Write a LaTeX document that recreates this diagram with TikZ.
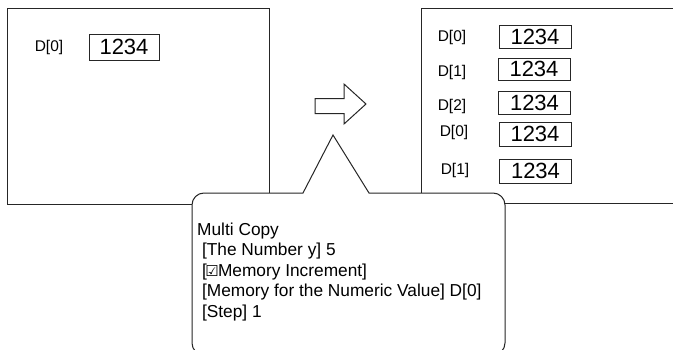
\documentclass[tikz,border=0pt]{standalone}
\usepackage{fontspec}
\setmainfont{Liberation Sans}
\newfontfamily\symfont{DejaVu Sans}
\newcommand\checkedbox{\kern-0.08em{\symfont\fontsize{15}{15}\selectfont\char"2611}\kern-0.05em}
\begin{document}
\begin{tikzpicture}[x=1pt,y=1pt,
  frame/.style={draw=black!85, line width=1pt},
  valbox/.style={draw=black!85, line width=0.9pt, minimum width=72pt,
    minimum height=23pt, inner sep=0pt, font=\fontsize{22}{22}\selectfont},
  lbl/.style={font=\fontsize{15.5}{15.5}\selectfont, inner sep=0pt},
  note/.style={anchor=base west, align=left, inner sep=0pt,
    font=\fontsize{17.3}{20.5}\selectfont}]
\useasboundingbox (0,0) rectangle (673,349);
\clip (0,0) rectangle (673,349);

% source screen
\draw[frame] (7,340) rectangle (269,145);
\node[lbl] (s0) at (49,302) {D[0]};
\node[valbox, minimum width=70pt, minimum height=26pt] (sv0) at (124,302) {1234};

% destination screen
\draw[frame] (421,340) rectangle (690,146);
\node[lbl] (d0) at (452,312) {D[0]};
\node[valbox] (dv0) at (535,312.5) {1234};
\node[lbl] (d1) at (452,277) {D[1]};
\node[valbox, minimum height=22pt] (dv1) at (534,280) {1234};
\node[lbl] (d2) at (452,243) {D[2]};
\node[valbox] (dv2) at (534.5,246.5) {1234};
\node[lbl] (d3) at (454,217) {D[0]};
\node[valbox, minimum height=24pt] (dv3) at (535,215) {1234};
\node[lbl] (d4) at (455,179) {D[1]};
\node[valbox, minimum height=24pt] (dv4) at (535.5,178) {1234};

% outline block arrow
\draw[frame, fill=white] (315,250.5) -- (344,250.5) -- (344,265) -- (366,245)
  -- (344,225) -- (344,235.5) -- (315,235.5) -- cycle;

% speech balloon with settings
\draw[frame, fill=white] (303,156) -- (333,214) -- (369,156) -- (493,156)
  arc[start angle=90, end angle=0, radius=12] -- (505,6)
  arc[start angle=0, end angle=-90, radius=12] -- (204,-6)
  arc[start angle=270, end angle=180, radius=12] -- (192,144)
  arc[start angle=180, end angle=90, radius=12] -- cycle;
% base anchor of a multi-line node sits on the last line
\node[note] (txt) at (197,32) {Multi Copy\\
  \hspace*{0.28em}[The Number y] 5\\
  \hspace*{0.28em}[\checkedbox Memory Increment]\\
  \hspace*{0.28em}[Memory for the Numeric Value] D[0]\\
  \hspace*{0.28em}[Step] 1};
\end{tikzpicture}
\end{document}
